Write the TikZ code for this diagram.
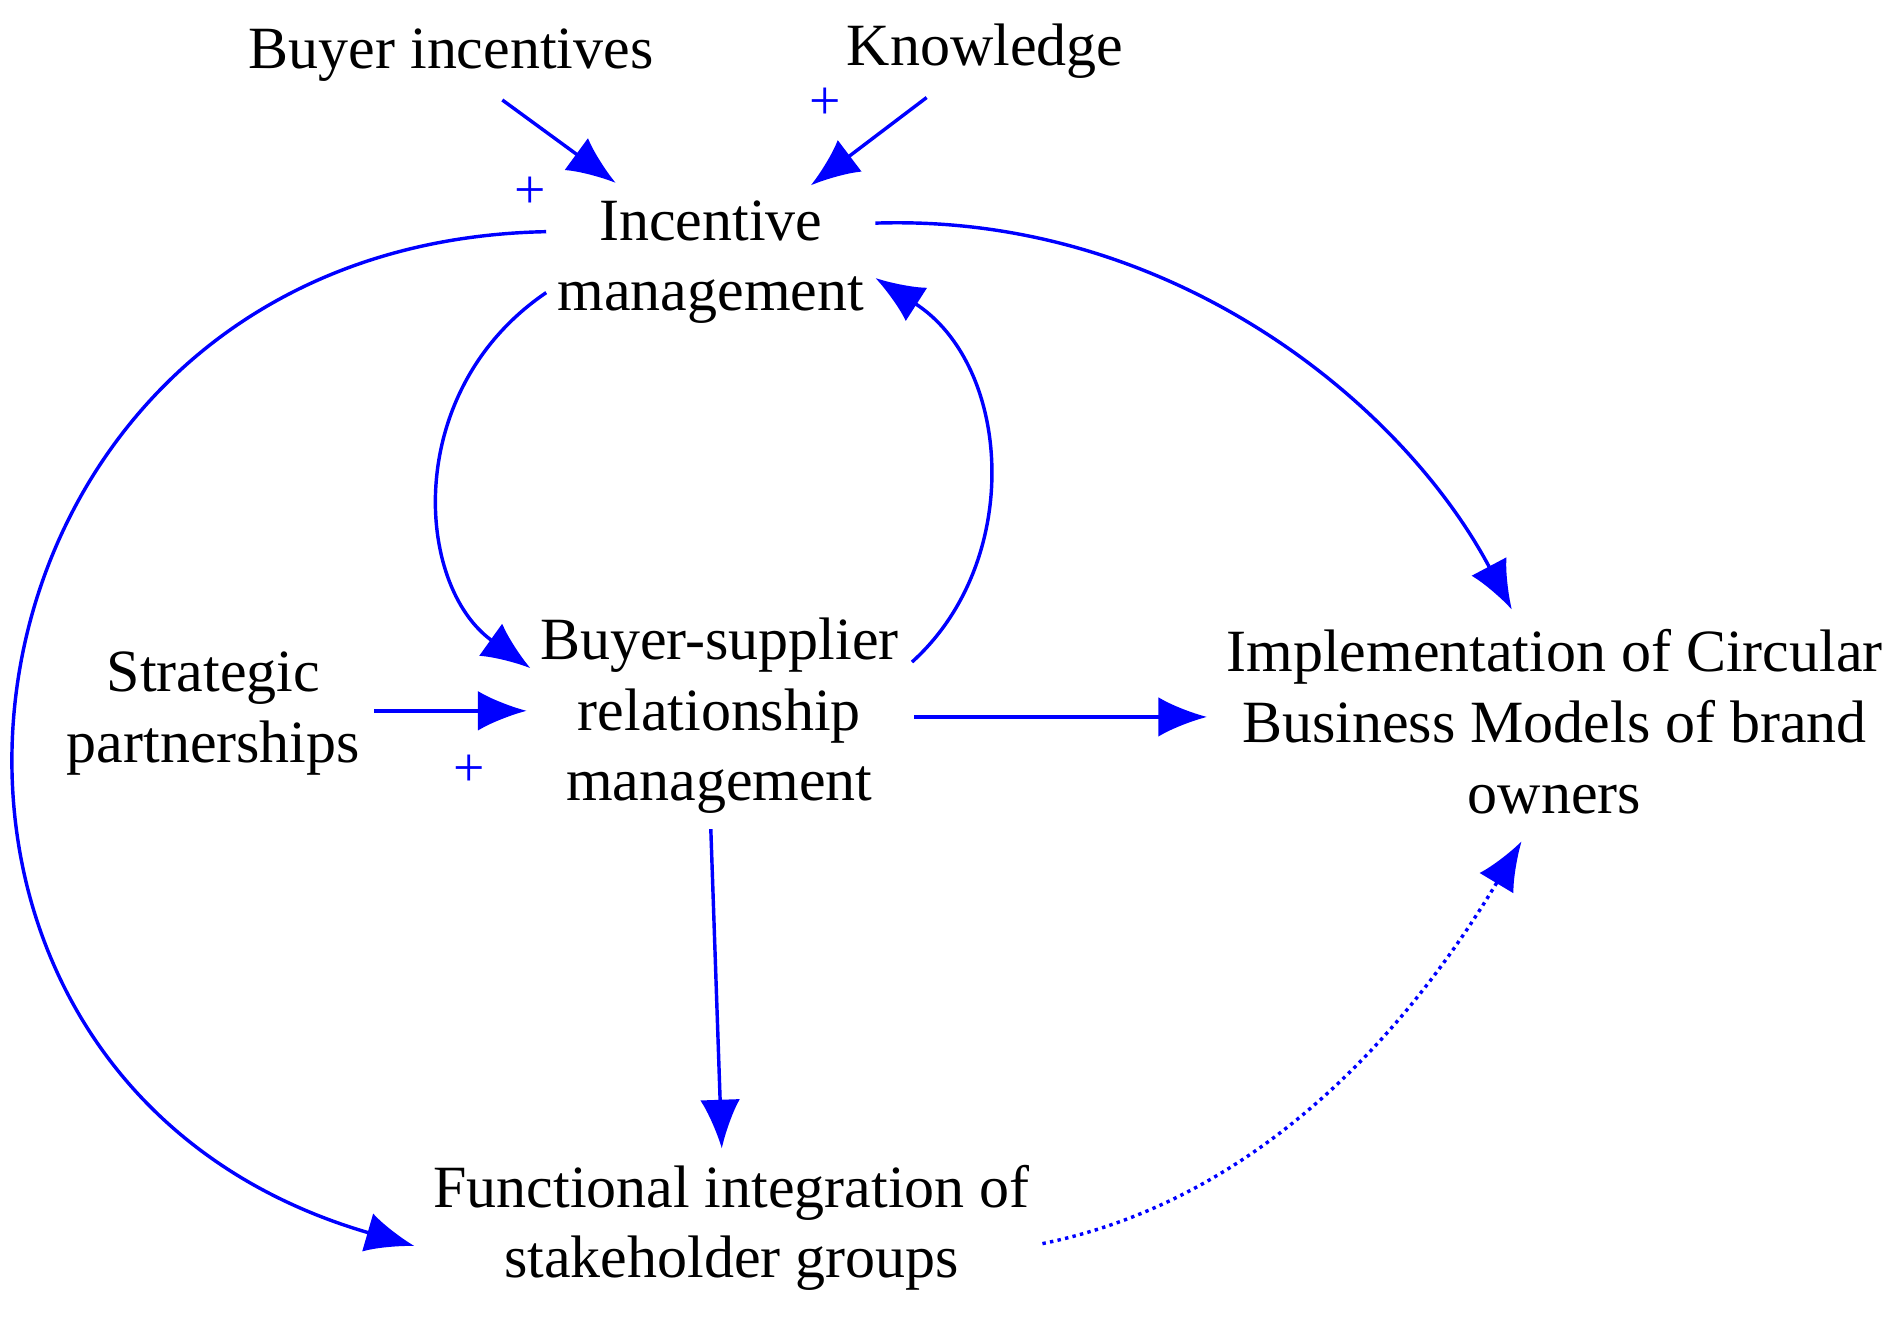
\documentclass[tikz,border=0pt]{standalone}
\usepackage{fontspec}
\setmainfont{Liberation Serif}
\usetikzlibrary{arrows.meta}
\begin{document}
\begin{tikzpicture}[x=0.02cm,y=-0.02cm,
  lbl/.style={font=\fontsize{28}{33}\selectfont,align=center,inner sep=0pt},
  pl/.style={font=\fontsize{26}{30}\selectfont,text=blue,inner sep=0pt},
  arr/.style={draw=blue,line width=1.6pt,-{Latex[length=0.8cm,width=0.65cm]}}]
\useasboundingbox (0,0) rectangle (1560,1083);
\node[lbl] (bi) at (370,45) {Buyer incentives};
\node[lbl] (kn) at (808,42) {Knowledge};
\node[lbl] (im) at (583,215) {Incentive\\management};
\node[lbl] (sp) at (175,585) {Strategic\\partnerships};
\node[lbl] (bs) at (590,587) {Buyer-supplier\\relationship\\management};
\node[lbl] (cb) at (1275,592) {Implementation of Circular\\Business Models of brand\\owners};
\node[lbl] (fi) at (600,1007) {Functional integration of\\stakeholder groups};
\node[pl] (p1) at (677,85) {+};
\node[pl] (p2) at (435,158) {+};
\node[pl] (p3) at (385,632) {+};
\coordinate (a1) at (412,82); \coordinate (a2) at (505,150);
\coordinate (b1) at (760,80); \coordinate (b2) at (665,152);
\draw[arr] (a1) -- (a2);
\draw[arr] (b1) -- (b2);
\coordinate (c1) at (448,190); \coordinate (c2) at (340,1022);
\draw[arr] (c1) .. controls (-60,200) and (-150,880) .. (c2);
\coordinate (d1) at (718,183); \coordinate (d2) at (1240,500);
\draw[arr] (d1) .. controls (960,175) and (1150,330) .. (d2);
\coordinate (e1) at (448,240); \coordinate (e2) at (435,548);
\draw[arr] (e1) .. controls (330,320) and (340,480) .. (e2);
\coordinate (f1) at (748,543); \coordinate (f2) at (718,228);
\draw[arr] (f1) .. controls (840,460) and (830,300) .. (f2);
\coordinate (g1) at (307,583); \coordinate (g2) at (432,583);
\draw[arr] (g1) -- (g2);
\coordinate (h1) at (750,588); \coordinate (h2) at (990,588);
\draw[arr] (h1) -- (h2);
\coordinate (i1) at (583,680); \coordinate (i2) at (592,942);
\draw[arr] (i1) -- (i2);
\coordinate (j1) at (855,1020); \coordinate (j2) at (1248,690);
\draw[arr,dotted] (j1) .. controls (1050,980) and (1170,820) .. (j2);
\end{tikzpicture}
\end{document}
